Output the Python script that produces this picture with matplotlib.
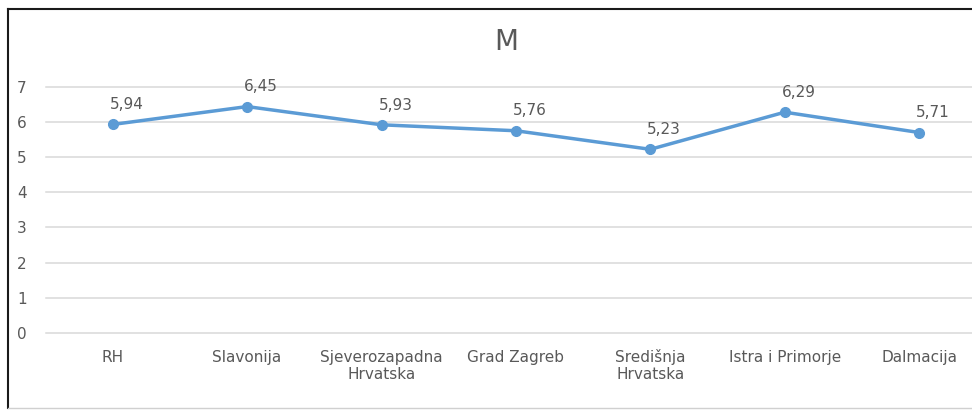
import matplotlib
matplotlib.use("Agg")
import matplotlib.pyplot as plt
from matplotlib.lines import Line2D
from matplotlib.transforms import ScaledTranslation

categories = ["RH", "Slavonija", "Sjeverozapadna\nHrvatska", "Grad Zagreb",
              "Središnja\nHrvatska", "Istra i Primorje", "Dalmacija"]
values = [5.94, 6.45, 5.93, 5.76, 5.23, 6.29, 5.71]
labels = ["5,94", "6,45", "5,93", "5,76", "5,23", "6,29", "5,71"]
yticks = [0, 1, 2, 3, 4, 5, 6, 7]
title = "M"

plt.rcParams['font.family'] = ['DejaVu Sans']
W, H = 972, 411
fig = plt.figure(figsize=(W / 100, H / 100), dpi=100)
fig.patch.set_facecolor("white")

left, right = 45.5, 45.5 + 7 * 134.4
top, bottom = 87.3, 332.6
ax = fig.add_axes([left / W, 1 - bottom / H, (right - left) / W, (bottom - top) / H])

text_color = "#595959"
grid_color = "#D9D9D9"
line_color = "#5B9BD5"

x = list(range(len(categories)))
ax.plot(x, values, color=line_color, lw=2.5, marker="o", ms=7,
        markerfacecolor=line_color, markeredgecolor=line_color, zorder=3,
        solid_capstyle="round")
for xi, v, lab in zip(x, values, labels):
    ax.annotate(lab, (xi, v), xytext=(10, 11), textcoords="offset points",
                ha="center", va="baseline", fontsize=11, color=text_color)

ax.set_xlim(-0.5, len(categories) - 0.5)
ax.set_ylim(0, 7)
ax.set_yticks(yticks)
ax.set_yticklabels([str(t) for t in yticks])
ax.set_xticks(x)
ax.set_xticklabels(categories)
for s in ax.spines.values():
    s.set_visible(False)
ax.grid(axis="y", color=grid_color, lw=1.1)
for gl in ax.get_ygridlines():
    gl.set_clip_on(False)
ax.set_axisbelow(True)
ax.tick_params(axis="both", length=0, labelsize=11, labelcolor=text_color)
ax.tick_params(axis="y", pad=13.5)
ax.tick_params(axis="x", pad=12.5)

# align labels with taller glyphs (caron) to the same baseline as others
for lbl in ax.get_xticklabels():
    if "š" in lbl.get_text():
        lbl.set_transform(lbl.get_transform() +
                          ScaledTranslation(0, 1.0 / 72, fig.dpi_scale_trans))

fig.text(506 / W, 1 - 42 / H, title, ha="center", va="center",
         fontsize=20, color=text_color)

# chart frame
fig.add_artist(Line2D([7.5 / W, 7.5 / W], [1 - 9.5 / H, 1 - 407.5 / H],
                      color="#1a1a1a", lw=1.5))
fig.add_artist(Line2D([7.5 / W, 1.0], [1 - 9.5 / H, 1 - 9.5 / H],
                      color="#1a1a1a", lw=1.5))
fig.add_artist(Line2D([7.5 / W, 1.0], [1 - 407.5 / H, 1 - 407.5 / H],
                      color="#D0D0D0", lw=1.0))

fig.savefig("out.png", dpi=100)
